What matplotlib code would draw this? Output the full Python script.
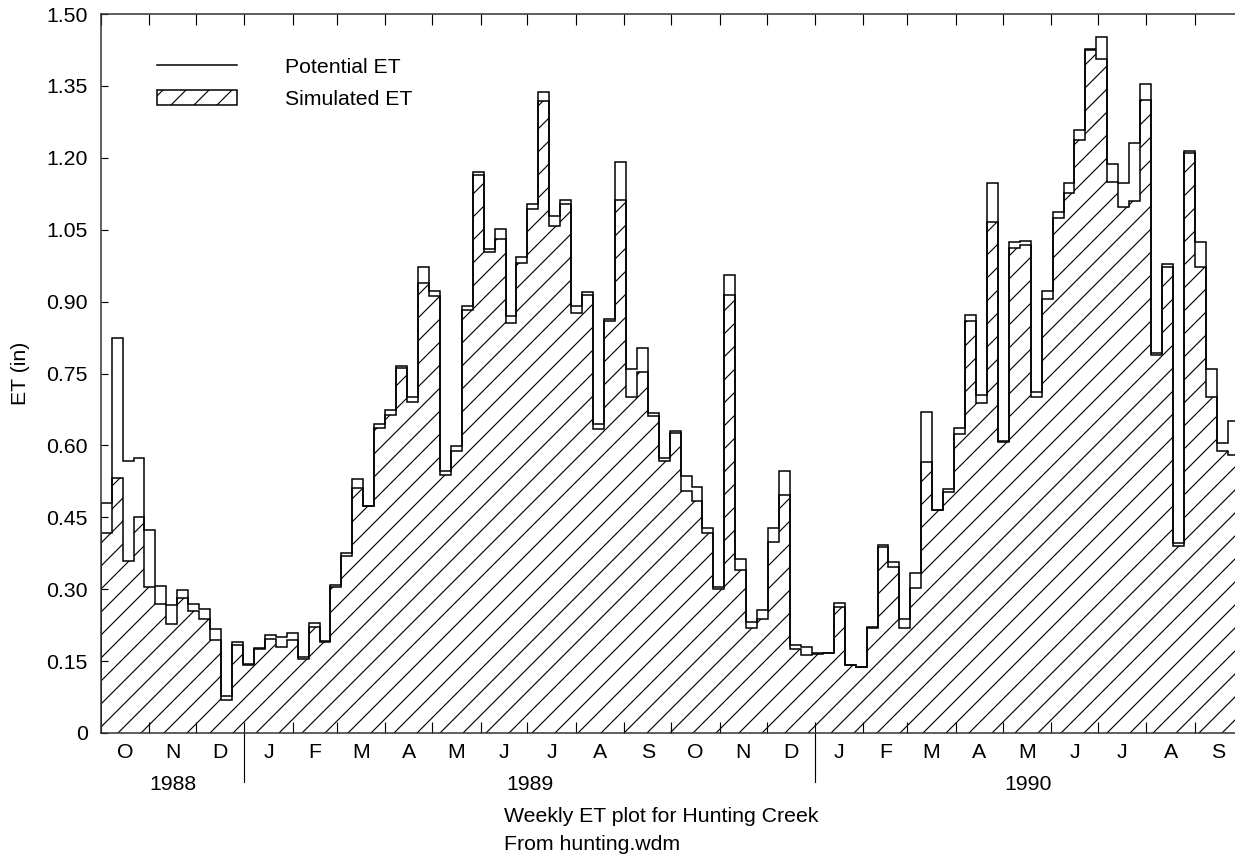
import numpy as np
import pandas as pd
import matplotlib
matplotlib.use('Agg')
import matplotlib.pyplot as plt
import matplotlib.transforms as mtransforms
from matplotlib.lines import Line2D
from matplotlib.patches import Patch

# weekly totals (inches), first week starting 1988-10-01
potential_et = [
    0.480, 0.825, 0.567, 0.574, 0.424, 0.307, 0.267, 0.298, 0.269, 0.259,
    0.216, 0.077, 0.189, 0.143, 0.177, 0.204, 0.201, 0.209, 0.159, 0.229,
    0.192, 0.309, 0.376, 0.529, 0.474, 0.644, 0.674, 0.766, 0.700, 0.972,
    0.922, 0.547, 0.599, 0.891, 1.171, 1.009, 1.051, 0.870, 0.994, 1.103,
    1.337, 1.079, 1.112, 0.891, 0.919, 0.645, 0.863, 1.192, 0.759, 0.803,
    0.667, 0.573, 0.629, 0.537, 0.514, 0.427, 0.304, 0.955, 0.363, 0.232,
    0.257, 0.427, 0.547, 0.184, 0.180, 0.166, 0.166, 0.271, 0.142, 0.138,
    0.222, 0.392, 0.357, 0.237, 0.333, 0.670, 0.465, 0.509, 0.637, 0.872,
    0.705, 1.148, 0.609, 1.024, 1.027, 0.711, 0.922, 1.087, 1.148, 1.259,
    1.428, 1.451, 1.188, 1.148, 1.230, 1.354, 0.793, 0.978, 0.396, 1.214,
    1.024, 0.759, 0.604, 0.650, 0.620,
]
simulated_et = [
    0.417, 0.531, 0.359, 0.450, 0.304, 0.269, 0.227, 0.281, 0.255, 0.237,
    0.195, 0.069, 0.184, 0.142, 0.175, 0.196, 0.180, 0.195, 0.154, 0.222,
    0.189, 0.304, 0.369, 0.512, 0.474, 0.637, 0.663, 0.761, 0.691, 0.938,
    0.912, 0.538, 0.589, 0.883, 1.164, 1.004, 1.030, 0.856, 0.980, 1.093,
    1.319, 1.058, 1.104, 0.876, 0.914, 0.634, 0.860, 1.112, 0.702, 0.754,
    0.661, 0.567, 0.625, 0.505, 0.485, 0.417, 0.300, 0.914, 0.341, 0.220,
    0.237, 0.398, 0.497, 0.175, 0.162, 0.165, 0.166, 0.262, 0.141, 0.138,
    0.220, 0.389, 0.347, 0.220, 0.302, 0.566, 0.465, 0.503, 0.623, 0.860,
    0.689, 1.067, 0.607, 1.011, 1.018, 0.700, 0.906, 1.074, 1.127, 1.237,
    1.425, 1.406, 1.150, 1.097, 1.109, 1.321, 0.789, 0.973, 0.390, 1.209,
    0.973, 0.702, 0.588, 0.580, 0.580,
]

start = pd.Timestamp('1988-10-01')
end = pd.Timestamp('1990-10-01')
month_labels = ['O', 'N', 'D', 'J', 'F', 'M', 'A', 'M', 'J', 'J', 'A', 'S',
                'O', 'N', 'D', 'J', 'F', 'M', 'A', 'M', 'J', 'J', 'A', 'S']
years = ['1988', '1989', '1990']

plt.rcParams['font.family'] = ['Liberation Sans', 'DejaVu Sans']
plt.rcParams['hatch.linewidth'] = 0.6
FS = 11.1

DPI = 138
fig = plt.figure(figsize=(1235 / DPI, 857 / DPI), dpi=DPI)
ax = fig.add_axes([100.7 / 1235, 124 / 857, 1141 / 1235, 719 / 857])

# x in days since start, one step per week
edges = np.arange(len(potential_et) + 1) * 7
ax.stairs(simulated_et, edges, fill=True, hatch='//', facecolor='white',
          edgecolor='black', linewidth=0.8)
ax.stairs(potential_et, edges, color='black', linewidth=0.8)

span = (end - start).days
ax.set_xlim(0, span)
ax.set_ylim(0, 1.5)

yt = np.arange(0, 1.51, 0.15)
ax.set_yticks(yt)
ax.set_yticklabels(['0' if v == 0 else f'{v:.2f}' for v in yt], fontsize=FS)

month_starts = pd.date_range(start, end, freq='MS')
mdays = np.array([(d - start).days for d in month_starts])
ax.set_xticks(mdays)
ax.set_xticklabels([])
ax.set_xticks((mdays[:-1] + mdays[1:]) / 2, minor=True)
ax.set_xticklabels(month_labels, minor=True, fontsize=FS)

ax.tick_params(axis='x', which='major', direction='in', top=True,
               length=5.7, width=0.6)
ax.tick_params(axis='x', which='minor', length=0, pad=5)
ax.tick_params(axis='y', direction='in', right=True, length=3.7, width=0.6,
               pad=6.8)
for s in ax.spines.values():
    s.set_linewidth(0.8)
    s.set_color('#333333')

# year labels and separators under the month row
trans = mtransforms.blended_transform_factory(ax.transData, ax.transAxes)
year_edges = [0] + [(pd.Timestamp(f'{y}-01-01') - start).days for y in years[1:]] + [span]
for i, y in enumerate(years):
    ax.text((year_edges[i] + year_edges[i + 1]) / 2, -0.072, y,
            transform=trans, ha='center', va='center', fontsize=FS)
for x in year_edges[1:-1]:
    ax.plot([x, x], [0, -0.068], transform=trans, color='black',
            linewidth=0.6, clip_on=False)

handles = [Line2D([], [], color='black', linewidth=0.8),
           Patch(facecolor='white', edgecolor='black', hatch='//', linewidth=0.8)]
ax.legend(handles, ['Potential ET', 'Simulated ET'], loc='upper left',
          bbox_to_anchor=(0.0493, 0.939), frameon=False, fontsize=FS,
          borderpad=0, borderaxespad=0, handlelength=3.76,
          handletextpad=2.25, labelspacing=0.61)

fig.text(20 / 1235, (857 - 373) / 857, 'ET (in)', rotation=90,
         ha='center', va='center', fontsize=FS)
fig.text(504 / 1235, (857 - 816) / 857, 'Weekly ET plot for Hunting Creek',
         ha='left', va='center', fontsize=FS)
fig.text(504 / 1235, (857 - 845) / 857, 'From hunting.wdm',
         ha='left', va='center', fontsize=FS)

fig.savefig('out.png', dpi=DPI)
